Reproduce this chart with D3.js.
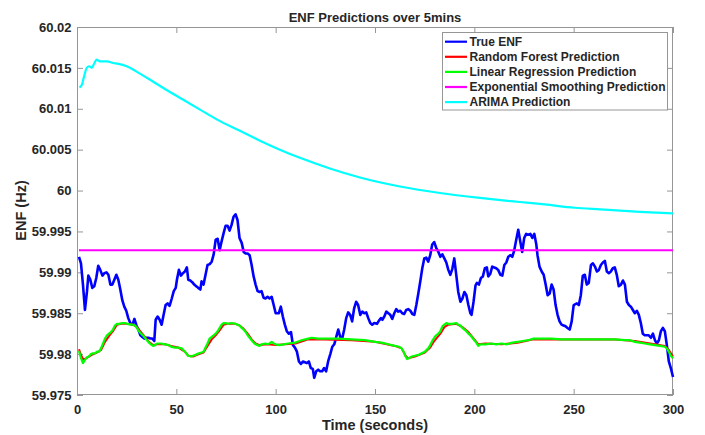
<!DOCTYPE html>
<html>
<head>
<meta charset="utf-8">
<script src="https://cdn.jsdelivr.net/npm/d3@7"></script>
<style>
    body { margin: 0; background: #fff; }
    text { font-family: "Liberation Sans", Arial, sans-serif; font-weight: bold; fill: #262626; }
</style>
</head>
<body>
<svg id="chart" width="705" height="435"></svg>
<script>
// tick values + labels
const timeTicks = [0, 50, 100, 150, 200, 250, 300];
const enfTicks = [59.975, 59.98, 59.985, 59.99, 59.995, 60, 60.005, 60.01, 60.015, 60.02];
const enfTickLabels = ["59.975", "59.98", "59.985", "59.99", "59.995", "60", "60.005", "60.01", "60.015", "60.02"];

const seriesNames = ["True ENF", "Random Forest Prediction", "Linear Regression Prediction", "Exponential Smoothing Prediction", "ARIMA Prediction"];
const seriesColors = ["#0000ff", "#ff0000", "#00ff00", "#ff00ff", "#00ffff"];

// [time (s), ENF (Hz)]
const trueEnf = [[1.0,59.9919],[2.0,59.9911],[3.0,59.9885],[4.0,59.9854],[5.0,59.9876],[5.7,59.9896],[6.7,59.9891],[7.7,59.9881],[8.7,59.9883],[9.7,59.9893],[10.7,59.9908],[11.7,59.9903],[12.8,59.9896],[13.8,59.9899],[14.8,59.9900],[15.8,59.9897],[16.8,59.9885],[17.8,59.9885],[18.8,59.9891],[19.8,59.9897],[20.8,59.9891],[21.8,59.9879],[22.8,59.9866],[23.8,59.9858],[24.8,59.9853],[25.8,59.9844],[26.8,59.9838],[27.9,59.9836],[28.9,59.9843],[29.9,59.9835],[30.9,59.9830],[31.9,59.9823],[32.9,59.9821],[33.9,59.9819],[34.9,59.9820],[35.9,59.9820],[36.9,59.9819],[37.9,59.9819],[38.9,59.9816],[39.6,59.9842],[40.6,59.9846],[41.6,59.9842],[42.6,59.9836],[43.6,59.9848],[44.6,59.9860],[45.6,59.9862],[46.6,59.9859],[47.7,59.9868],[48.7,59.9877],[49.7,59.9881],
    [50.3,59.9891],[51.3,59.9903],[52.3,59.9896],[53.3,59.9899],[54.3,59.9901],[55.3,59.9906],[56.0,59.9891],[57.0,59.9890],[58.0,59.9888],[59.0,59.9885],[60.0,59.9883],[61.0,59.9881],[62.1,59.9879],[62.7,59.9889],[63.7,59.9885],[64.7,59.9897],[65.7,59.9909],[66.8,59.9910],[67.8,59.9913],[68.8,59.9922],[69.8,59.9940],[70.8,59.9941],[71.8,59.9927],[72.8,59.9938],[73.8,59.9948],[74.8,59.9957],[75.8,59.9957],[76.8,59.9951],[77.8,59.9958],[78.8,59.9968],[79.8,59.9971],[80.8,59.9964],[81.8,59.9942],[82.9,59.9936],[83.9,59.9925],[84.9,59.9923],[85.9,59.9923],[86.9,59.9921],[87.9,59.9909],[88.9,59.9895],[89.9,59.9885],[90.9,59.9877],[91.9,59.9876],[92.9,59.9877],[93.9,59.9869],[94.9,59.9868],[95.9,59.9870],[96.9,59.9868],[98.0,59.9870],[99.0,59.9860],
    [100.0,59.9850],[101.6,59.9850],[102.6,59.9858],[103.6,59.9846],[104.6,59.9836],[105.6,59.9828],[106.6,59.9825],[107.7,59.9827],[108.7,59.9811],[109.7,59.9808],[110.7,59.9803],[111.7,59.9791],[112.7,59.9788],[113.7,59.9791],[114.7,59.9790],[115.7,59.9789],[116.7,59.9791],[117.7,59.9783],[118.7,59.9782],[119.4,59.9771],[120.4,59.9779],[121.4,59.9781],[122.4,59.9779],[123.4,59.9779],[124.4,59.9783],[125.4,59.9779],[126.4,59.9791],[127.5,59.9800],[128.5,59.9809],[129.5,59.9812],[130.5,59.9821],[131.5,59.9830],[132.5,59.9821],[133.5,59.9819],[134.5,59.9830],[135.5,59.9844],[136.5,59.9851],[137.5,59.9848],[138.5,59.9840],[139.5,59.9856],[140.5,59.9864],[141.5,59.9860],[142.6,59.9848],[143.6,59.9852],[144.6,59.9850],[145.6,59.9851],[146.6,59.9844],[147.6,59.9838],[148.6,59.9836],[149.6,59.9838],
    [151.0,59.9837],[152.0,59.9841],[153.0,59.9844],[153.7,59.9842],[154.7,59.9846],[155.7,59.9852],[156.7,59.9850],[157.7,59.9848],[158.7,59.9843],[159.7,59.9850],[160.7,59.9855],[161.7,59.9852],[162.7,59.9853],[163.7,59.9850],[164.7,59.9849],[165.7,59.9854],[166.7,59.9855],[167.8,59.9853],[168.8,59.9849],[169.8,59.9848],[170.8,59.9860],[171.8,59.9874],[172.8,59.9889],[173.8,59.9905],[174.8,59.9917],[175.8,59.9918],[176.8,59.9913],[177.8,59.9921],[178.8,59.9934],[179.8,59.9937],[180.8,59.9930],[181.9,59.9925],[182.9,59.9919],[183.9,59.9922],[184.9,59.9917],[185.9,59.9912],[186.9,59.9903],[187.9,59.9897],[188.9,59.9904],[189.9,59.9917],[190.9,59.9897],[191.9,59.9876],[193.0,59.9864],[194.0,59.9868],[195.0,59.9876],[196.0,59.9872],[197.0,59.9860],[198.0,59.9850],[198.6,59.9848],[199.6,59.9864],[200.6,59.9884],
    [201.3,59.9887],[202.3,59.9885],[203.3,59.9893],[204.3,59.9895],[205.3,59.9905],[206.3,59.9906],[207.0,59.9895],[208.0,59.9898],[209.0,59.9907],[210.0,59.9906],[211.0,59.9905],[212.0,59.9903],[213.1,59.9897],[214.1,59.9896],[215.1,59.9909],[216.1,59.9912],[217.1,59.9919],[218.1,59.9921],[219.1,59.9919],[220.1,59.9927],[221.1,59.9940],[222.1,59.9952],[223.1,59.9938],[224.1,59.9925],[225.1,59.9942],[226.1,59.9947],[227.1,59.9946],[228.2,59.9947],[229.2,59.9942],[230.2,59.9947],[231.2,59.9934],[231.8,59.9921],[232.8,59.9907],[233.9,59.9901],[234.9,59.9897],[235.9,59.9885],[236.9,59.9872],[237.9,59.9874],[238.9,59.9885],[239.9,59.9879],[240.9,59.9860],[241.9,59.9848],[242.9,59.9840],[243.9,59.9836],[244.9,59.9835],[245.9,59.9834],[246.9,59.9832],[248.0,59.9830],[249.0,59.9840],[250.0,59.9860],
    [251.6,59.9862],[252.6,59.9860],[253.6,59.9872],[254.6,59.9896],[255.6,59.9897],[256.6,59.9885],[257.6,59.9887],[258.7,59.9909],[259.7,59.9911],[260.7,59.9907],[261.7,59.9901],[262.7,59.9903],[263.7,59.9909],[264.7,59.9912],[265.7,59.9914],[266.7,59.9901],[267.7,59.9899],[268.7,59.9901],[269.7,59.9905],[270.7,59.9906],[271.7,59.9897],[272.7,59.9883],[273.8,59.9885],[274.8,59.9890],[275.8,59.9885],[276.8,59.9864],[277.8,59.9860],[278.8,59.9858],[279.8,59.9854],[280.8,59.9850],[281.8,59.9853],[282.8,59.9848],[283.8,59.9838],[284.8,59.9825],[285.8,59.9823],[286.8,59.9823],[287.8,59.9823],[288.9,59.9820],[289.9,59.9825],[290.9,59.9817],[291.9,59.9813],[292.9,59.9817],[293.9,59.9828],[294.9,59.9832],[295.9,59.9828],[296.9,59.9811],[297.9,59.9791],[298.9,59.9783],[300.0,59.9772]];

const rfPred = [[1.0,59.9806],[2.0,59.9799],[3.0,59.9794],[4.0,59.9794],[6.0,59.9797],[8.1,59.9800],[10.1,59.9802],[12.1,59.9805],[14.1,59.9815],[16.1,59.9822],[18.1,59.9828],[20.1,59.9836],[22.2,59.9837],[25.2,59.9837],[28.2,59.9836],[30.2,59.9833],[32.2,59.9827],[34.2,59.9821],[36.2,59.9815],[38.3,59.9811],[40.3,59.9812],[44.3,59.9812],[47.3,59.9810],[51.0,59.9808],[54.3,59.9803],[56.0,59.9798],[58.4,59.9797],[61.4,59.9800],[63.7,59.9802],[65.7,59.9810],[67.8,59.9818],[69.8,59.9823],[71.8,59.9829],[73.8,59.9836],[75.8,59.9837],[79.8,59.9837],[81.8,59.9835],[83.9,59.9831],[85.9,59.9825],[87.9,59.9818],[89.9,59.9813],[91.9,59.9811],[95.9,59.9812],[100.0,59.9811],[110.0,59.9813],[116.4,59.9818],[124.8,59.9818],[138.2,59.9817],[150.0,59.9815],[160.0,59.9810],[163.4,59.9807],[165.4,59.9798],[166.5,59.9795],[170.1,59.9797],[175.1,59.9802],[177.8,59.9808],[179.8,59.9816],[182.9,59.9825],[184.9,59.9833],[186.9,59.9836],[190.9,59.9837],[194.0,59.9833],[197.0,59.9827],[200.0,59.9818],[202.0,59.9812],[205.7,59.9813],[213.7,59.9812],[221.8,59.9814],[229.8,59.9818],[243.9,59.9818],[270.7,59.9818],[280.8,59.9816],[290.9,59.9812],[295.9,59.9810],[297.9,59.9805],[300.0,59.9797]];

const lrPred = [[1.0,59.9804],[2.0,59.9795],[3.0,59.9789],[4.0,59.9793],[5.0,59.9796],[6.0,59.9797],[7.0,59.9800],[8.1,59.9801],[9.1,59.9801],[10.1,59.9803],[11.1,59.9803],[12.1,59.9807],[13.1,59.9813],[14.1,59.9819],[15.1,59.9823],[16.1,59.9825],[17.1,59.9827],[18.1,59.9830],[19.1,59.9835],[20.1,59.9837],[21.1,59.9837],[23.2,59.9838],[24.2,59.9838],[25.2,59.9837],[27.2,59.9836],[28.2,59.9836],[29.2,59.9835],[30.2,59.9832],[31.2,59.9828],[32.2,59.9825],[33.2,59.9823],[34.2,59.9820],[35.2,59.9817],[36.2,59.9814],[37.2,59.9812],[38.3,59.9810],[39.3,59.9811],[40.3,59.9813],[42.3,59.9813],[44.3,59.9812],[46.3,59.9811],[47.3,59.9809],[49.3,59.9808],[51.0,59.9808],[52.7,59.9807],[54.3,59.9803],[56.0,59.9798],[57.4,59.9797],[58.4,59.9798],[59.4,59.9799],[60.4,59.9800],[61.4,59.9801],[62.7,59.9802],[63.7,59.9803],[64.7,59.9808],[65.7,59.9813],[66.7,59.9819],[67.8,59.9821],[68.8,59.9823],[69.8,59.9825],[70.8,59.9828],[71.8,59.9832],[72.8,59.9836],[73.8,59.9838],[74.8,59.9838],[75.8,59.9837],[77.8,59.9838],[79.8,59.9837],[80.8,59.9836],[81.8,59.9835],[82.9,59.9832],[83.9,59.9830],[84.9,59.9827],[85.9,59.9823],[86.9,59.9820],[87.9,59.9817],[88.9,59.9814],[89.9,59.9812],[90.9,59.9811],[91.9,59.9810],[92.9,59.9812],[94.9,59.9813],[95.9,59.9812],[96.9,59.9813],[98.0,59.9815],[99.0,59.9813],[100.0,59.9812],[102.0,59.9811],[106.3,59.9813],[109.7,59.9814],[113.0,59.9817],[116.4,59.9819],[118.1,59.9820],[121.4,59.9819],[124.8,59.9819],[131.5,59.9819],[138.2,59.9818],[144.9,59.9817],[150.0,59.9815],[153.3,59.9814],[156.7,59.9812],[160.0,59.9810],[162.1,59.9809],[163.4,59.9807],[164.4,59.9803],[165.4,59.9797],[166.1,59.9794],[167.1,59.9795],[168.4,59.9797],[170.1,59.9798],[171.8,59.9799],[173.5,59.9801],[175.1,59.9803],[176.8,59.9807],[177.8,59.9811],[178.8,59.9816],[179.8,59.9820],[180.8,59.9823],[181.9,59.9825],[182.9,59.9828],[183.9,59.9834],[184.9,59.9836],[185.9,59.9838],[186.9,59.9837],[188.9,59.9837],[190.9,59.9838],[191.9,59.9836],[193.0,59.9835],[194.0,59.9832],[195.0,59.9830],[196.0,59.9828],[197.0,59.9825],[198.0,59.9823],[199.0,59.9820],[200.0,59.9817],[201.0,59.9814],[202.0,59.9810],[203.0,59.9812],[205.7,59.9812],[208.4,59.9813],[211.0,59.9812],[213.7,59.9813],[216.4,59.9812],[219.1,59.9814],[221.8,59.9815],[224.5,59.9816],[227.1,59.9817],[229.8,59.9819],[233.9,59.9819],[238.9,59.9819],[243.9,59.9818],[249.0,59.9818],[253.0,59.9818],[260.7,59.9818],[270.7,59.9818],[275.8,59.9817],[278.3,59.9817],[280.8,59.9815],[283.3,59.9814],[285.8,59.9813],[288.4,59.9812],[290.9,59.9811],[293.4,59.9810],[295.9,59.9809],[296.9,59.9807],[297.9,59.9803],[298.9,59.9798],[300.0,59.9795]];

const esPred = [[1, 59.9927], [300, 59.9927]];

const arimaPred = [[1.2,60.0126],[2.4,60.0129],[3.5,60.0139],[4.9,60.0150],[6.2,60.0152],[7.4,60.0150],[8.6,60.0155],[9.9,60.0160],[11.6,60.0158],[14.9,60.0158],[18.3,60.0156],[20.8,60.0155],[25.0,60.0152],[31.7,60.0143],[38.4,60.0133],[45.1,60.0123],[53.5,60.0111],[61.9,60.0099],[70.3,60.0087],[82.0,60.0073],[92.1,60.0061],[102.1,60.0050],[112.2,60.0040],[127.3,60.0027],[142.4,60.0016],[162.6,60.0005],[182.7,59.9997],[202.8,59.9991],[214.4,59.9988],[222.9,59.9986],[235.5,59.9983],[250.6,59.9979],[263.2,59.9977],[283.3,59.9974],[300.0,59.9972]];

const allSeries = [trueEnf, rfPred, lrPred, esPred, arimaPred];
const lineWidths = [2.6, 2, 2.2, 2.2, 2.2];

function drawChart() {
    const svg = d3.select("#chart");
    svg.selectAll("*").remove();

    const left = 77, right = 673, top = 27, bottom = 395;
    const axisColor = "#969696";

    const x = d3.scaleLinear().domain([0, 300]).range([left, right]);
    const y = d3.scaleLinear().domain([59.975, 60.02]).range([bottom, top]);

    // bottom axis with inward ticks
    const xAxis = svg.append("g")
        .attr("transform", `translate(0,${bottom})`)
        .call(d3.axisBottom(x).tickValues(timeTicks).tickSize(-6).tickPadding(10).tickFormat(d3.format("d")));
    const yAxis = svg.append("g")
        .attr("transform", `translate(${left},0)`)
        .call(d3.axisLeft(y).tickValues(enfTicks).tickSize(-6).tickPadding(5.5)
            .tickFormat((d, i) => enfTickLabels[i]));
    // top / right just ticks
    const xTop = svg.append("g")
        .attr("transform", `translate(0,${top})`)
        .call(d3.axisTop(x).tickValues(timeTicks).tickSize(-6).tickFormat(""));
    const yRight = svg.append("g")
        .attr("transform", `translate(${right},0)`)
        .call(d3.axisRight(y).tickValues(enfTicks).tickSize(-6).tickFormat(""));

    [xAxis, yAxis, xTop, yRight].forEach(g => {
        g.select(".domain").remove();
        g.selectAll(".tick line").attr("stroke", axisColor);
        g.selectAll("text")
            .attr("fill", "#262626")
            .style("font-size", "13px")
            .style("font-family", '"Liberation Sans", Arial, sans-serif')
            .style("font-weight", "bold");
    });

    svg.append("rect")
        .attr("x", left + 0.5).attr("y", top + 0.5)
        .attr("width", right - left - 1).attr("height", bottom - top - 1)
        .attr("fill", "none")
        .attr("stroke", axisColor)
        .attr("stroke-width", 1);

    const line = d3.line()
        .x(d => x(d[0]))
        .y(d => y(d[1]));

    const lines = svg.append("g");
    allSeries.forEach((s, i) => {
        lines.append("path")
            .datum(s)
            .attr("fill", "none")
            .attr("stroke", seriesColors[i])
            .attr("stroke-width", lineWidths[i])
            .attr("stroke-linejoin", "round")
            .attr("d", i === 4 ? line.curve(d3.curveMonotoneX)(s) : line.curve(d3.curveLinear)(s));
    });

    // title + labels
    svg.append("text")
        .attr("x", (left + right) / 2).attr("y", 21.5)
        .attr("text-anchor", "middle")
        .style("font-size", "13px")
        .text("ENF Predictions over 5mins");

    svg.append("text")
        .attr("x", (left + right) / 2).attr("y", 429.5)
        .attr("text-anchor", "middle")
        .style("font-size", "14.5px")
        .text("Time (seconds)");

    svg.append("text")
        .attr("transform", "translate(26,210.5) rotate(-90)")
        .attr("text-anchor", "middle")
        .style("font-size", "14.5px")
        .text("ENF (Hz)");

    // legend
    const legend = svg.append("g");
    legend.append("rect")
        .attr("x", 442.5).attr("y", 32.5)
        .attr("width", 225).attr("height", 77.5)
        .attr("fill", "#fff")
        .attr("stroke", axisColor);

    seriesNames.forEach((name, i) => {
        const ly = 41.7 + i * 15.1;
        legend.append("line")
            .attr("x1", 445).attr("x2", 467)
            .attr("y1", ly).attr("y2", ly)
            .attr("stroke", seriesColors[i])
            .attr("stroke-width", 2.2);
        legend.append("text")
            .attr("x", 469.5).attr("y", ly)
            .attr("dy", "0.36em")
            .style("font-size", "12px")
            .text(name);
    });

    return svg.node();
}

drawChart();
</script>
</body>
</html>
